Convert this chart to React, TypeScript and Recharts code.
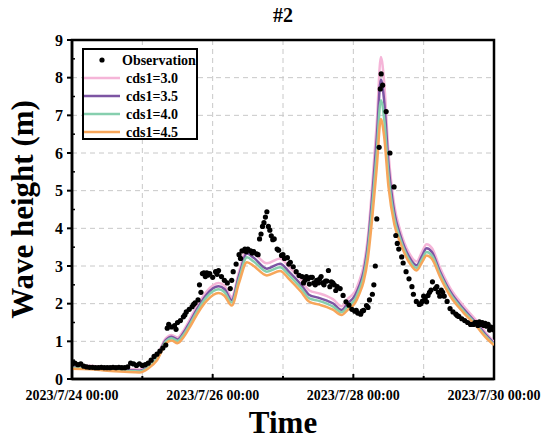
import React from "react";
import {
  ComposedChart,
  Line,
  Scatter,
  XAxis,
  YAxis,
  CartesianGrid,
  ReferenceArea,
} from "recharts";

// ---- Data (hours since 2023/7/24 00:00) ----
const xTickHours = [0, 24, 48, 72, 96, 120, 144];
const xTickLabels: Record<number, string> = {
  0: "2023/7/24 00:00",
  48: "2023/7/26 00:00",
  96: "2023/7/28 00:00",
  144: "2023/7/30 00:00",
};
const yTicks = [0, 0.5, 1, 1.5, 2, 2.5, 3, 3.5, 4, 4.5, 5, 5.5, 6, 6.5, 7, 7.5, 8, 8.5, 9];

const modelHours = [
  0, 6, 12, 18, 23, 26, 29, 32, 34, 36, 38, 40, 43, 46, 50, 52, 54.5, 57, 59.7, 62,
  66.5, 71, 74, 78, 81, 84, 87, 89, 92, 94, 96.6, 98, 99.5, 101, 102.5, 104, 105.4,
  106.5, 108, 110, 112, 115, 117.6, 119.4, 121, 122.8, 125.6, 129, 133.5, 138, 141, 144,
];
const cds30 = [
  0.36, 0.35, 0.3, 0.27, 0.25, 0.38, 0.62, 1.08, 1.17, 1.1, 1.28, 1.55, 1.98, 2.33, 2.55,
  2.48, 2.18, 2.85, 3.45, 3.35, 3.07, 3.2, 2.98, 2.65, 2.35, 2.28, 2.2, 2.12, 1.93, 2.12,
  2.33, 2.6, 3.0, 3.8, 5.2, 6.8, 8.55, 7.9, 6.0, 4.6, 3.95, 3.35, 3.12, 3.37, 3.58, 3.48,
  2.95, 2.42, 1.95, 1.55, 1.25, 0.98,
];
const cds35 = [
  0.32, 0.31, 0.27, 0.24, 0.22, 0.34, 0.58, 1.03, 1.12, 1.05, 1.22, 1.48, 1.9, 2.25, 2.46,
  2.39, 2.1, 2.75, 3.33, 3.22, 2.93, 3.06, 2.85, 2.52, 2.23, 2.16, 2.08, 2.01, 1.83, 2.0,
  2.22, 2.47, 2.85, 3.6, 4.9, 6.4, 7.95, 7.4, 5.7, 4.42, 3.82, 3.25, 3.02, 3.26, 3.47, 3.37,
  2.85, 2.33, 1.87, 1.48, 1.19, 0.95,
];
const cds40 = [
  0.3, 0.29, 0.25, 0.22, 0.2, 0.31, 0.55, 0.99, 1.08, 1.01, 1.17, 1.42, 1.84, 2.18, 2.38,
  2.31, 2.03, 2.66, 3.23, 3.12, 2.85, 2.97, 2.76, 2.43, 2.14, 2.08, 2.0, 1.93, 1.77, 1.92,
  2.12, 2.37, 2.72, 3.42, 4.62, 6.02, 7.4, 6.92, 5.4, 4.26, 3.72, 3.17, 2.95, 3.17, 3.37,
  3.28, 2.78, 2.27, 1.82, 1.44, 1.15, 0.92,
];
const cds45 = [
  0.27, 0.26, 0.22, 0.19, 0.17, 0.28, 0.5, 0.94, 1.02, 0.95, 1.1, 1.35, 1.76, 2.08, 2.28,
  2.21, 1.95, 2.55, 3.1, 3.0, 2.75, 2.87, 2.66, 2.33, 2.05, 1.98, 1.91, 1.84, 1.7, 1.83,
  2.02, 2.25, 2.58, 3.22, 4.32, 5.62, 6.9, 6.45, 5.1, 4.1, 3.62, 3.1, 2.88, 3.09, 3.28,
  3.19, 2.71, 2.21, 1.77, 1.4, 1.12, 0.9,
];

const obsHours = [
  0, 1, 2, 3, 4, 5, 6, 7, 8, 9, 10, 11, 12, 13, 14, 15, 16, 17, 18, 19, 20, 21, 22, 23, 24,
  25, 26, 27, 28, 29, 30, 31, 32, 32.5, 33, 34, 35, 36, 37, 38, 39, 40, 41, 42, 43, 43.5,
  44, 44.5, 45, 46, 47, 48, 49, 50, 51, 52, 53, 54, 54.5, 55, 56, 57, 58, 59, 60, 61, 62,
  63, 64, 64.5, 65, 65.5, 66.5, 67, 67.5, 68, 69, 70, 70.5, 71.5, 72.5, 73.5, 74.5, 75.5,
  76.5, 77.5, 78.5, 79.5, 80.5, 81.5, 82.5, 83.5, 84.5, 85.5, 86.5, 87.5, 88.5, 89.5,
  90.5, 91.5, 92.5, 93.5, 94.5, 95.5, 96.5, 97.5, 98.5, 99.5, 100.5, 101.5, 102.5, 103,
  103.5, 104, 104.8, 105.2, 105.5, 106, 107.2, 108.5, 109.9, 110.5, 111, 111.5, 112.5,
  113, 114, 115, 116, 116.5, 117.5, 118.5, 119.5, 120.5, 121.5, 122.5, 123, 124, 125,
  126, 127, 128, 129, 130, 131, 132, 133, 134, 135, 136, 137, 138, 139, 140, 141, 142,
  143, 144,
  // additional scattered readings
  35.5, 38.5, 41.5, 45.5, 46.5, 49.5, 57.5, 59.5, 61.5, 63.5, 66, 68.5, 72, 74, 79, 80,
  81, 82, 83, 84, 85, 86, 87, 88, 89, 90, 97, 99, 101, 119, 120, 121, 122, 124.5, 125.5,
  126.5, 131.5, 137.5, 138.5, 139.5, 140.5, 141.5, 142.5,
];
const obsValues = [
  0.4, 0.42, 0.38, 0.4, 0.34, 0.32, 0.31, 0.31, 0.3, 0.3, 0.31, 0.3, 0.3, 0.3, 0.31, 0.3,
  0.31, 0.3, 0.3, 0.32, 0.42, 0.4, 0.36, 0.4, 0.36, 0.38, 0.42, 0.5, 0.6, 0.66, 0.74, 0.82,
  0.9, 1.35, 1.45, 1.38, 1.42, 1.5, 1.55, 1.65, 1.78, 1.85, 1.92, 2.02, 2.1, 2.5, 2.3, 2.8,
  2.82, 2.82, 2.8, 2.7, 2.85, 2.88, 2.72, 2.62, 2.55, 2.4, 2.62, 2.85, 3.05, 3.3, 3.4,
  3.45, 3.45, 3.4, 3.38, 3.32, 3.72, 3.85, 4.05, 4.15, 4.44, 4.05, 3.95, 3.8, 3.72, 3.45,
  3.42, 3.28, 3.2, 3.22, 3.1, 2.98, 2.85, 2.75, 2.72, 2.62, 2.66, 2.7, 2.55, 2.62, 2.66,
  2.55, 2.6, 2.88, 2.58, 2.5, 2.45, 2.4, 2.22, 2.05, 1.96, 1.85, 1.8, 1.75, 1.72, 1.82,
  1.95, 2.1, 2.25, 2.5, 3.0, 4.25, 6.15, 7.7, 8.1, 7.8, 7.1, 6.0, 5.1, 3.81, 3.6, 3.45,
  3.24, 3.08, 2.85, 2.66, 2.45, 2.25, 2.06, 1.98, 2.06, 2.14, 2.22, 2.36, 2.58, 2.4, 2.3,
  2.36, 2.2, 2.06, 1.87, 1.78, 1.72, 1.66, 1.6, 1.55, 1.5, 1.45, 1.45, 1.5, 1.52, 1.5,
  1.48, 1.45, 1.38, 1.3,
  // additional scattered readings
  1.32, 1.7, 1.98, 2.72, 2.76, 2.78, 3.2, 3.38, 3.34, 3.3, 4.3, 3.7, 3.3, 3.05, 2.55,
  2.72, 2.52, 2.7, 2.5, 2.55, 2.72, 2.5, 2.6, 2.45, 2.55, 2.35, 1.82, 1.8, 1.9, 2.0, 2.2,
  2.05, 2.3, 2.45, 2.2, 2.3, 1.68, 1.5, 1.42, 1.45, 1.42, 1.4, 1.3,
];

const seriesNames = ["cds1=3.0", "cds1=3.5", "cds1=4.0", "cds1=4.5"];
const seriesKeys = ["c30", "c35", "c40", "c45"];
const seriesColors = ["#F5B5D8", "#7D55A3", "#86CFAE", "#F7A65A"];

const modelTable = modelHours.map((t, i) => ({
  t,
  c30: cds30[i],
  c35: cds35[i],
  c40: cds40[i],
  c45: cds45[i],
}));
const obsTable = obsHours.map((t, i) => ({ t, v: obsValues[i] }));

const FONT = "'Liberation Serif', 'Times New Roman', serif";

const YTick = (props: any) => {
  const { x, y, payload } = props;
  const ax = x + 8;
  const v = payload.value;
  const major = Math.abs(v - Math.round(v)) < 1e-6;
  return (
    <g>
      {major ? (
        <>
          <line x1={ax - 5} x2={ax} y1={y} y2={y} stroke="#000" strokeWidth={2} />
          <text
            x={x - 1}
            y={y}
            dy="0.35em"
            textAnchor="end"
            fontFamily={FONT}
            fontWeight="bold"
            fontSize={16}
            fill="#000"
          >
            {v}
          </text>
        </>
      ) : (
        <line x1={ax} x2={ax + 3} y1={y} y2={y} stroke="#000" strokeWidth={1.5} />
      )}
    </g>
  );
};

const XTick = (props: any) => {
  const { x, y, payload } = props;
  const ay = y - 10;
  const v = payload.value;
  const label = xTickLabels[v];
  return (
    <g>
      <line
        x1={x}
        x2={x}
        y1={ay}
        y2={ay - (label ? 5 : 3)}
        stroke="#000"
        strokeWidth={2}
      />
      {label ? (
        <text
          x={x}
          y={y}
          dy="0.78em"
          textAnchor="middle"
          fontFamily={FONT}
          fontWeight="bold"
          fontSize={14}
          fill="#000"
        >
          {label}
        </text>
      ) : null}
    </g>
  );
};

const Dot = (props: any) => {
  const { cx, cy } = props;
  if (cx == null || cy == null) return null;
  return <circle cx={cx} cy={cy} r={2.6} fill="#000" />;
};

export default function App() {
  const W = 534;
  const H = 427;
  return (
    <div style={{ position: "relative", width: W, height: H, fontFamily: FONT }}>
      <ComposedChart
        width={W}
        height={H}
        data={modelTable}
        margin={{ top: 32, right: 48, left: 24, bottom: 26 }}
      >
        <CartesianGrid
          stroke="#c8c8c8"
          strokeDasharray="5 4"
          horizontalValues={[1, 2, 3, 4, 5, 6, 7, 8]}
          verticalValues={[24, 48, 72, 96, 120]}
        />
        <XAxis
          dataKey="t"
          type="number"
          domain={[0, 144]}
          ticks={xTickHours}
          interval={0}
          allowDataOverflow
          height={30}
          tickSize={0}
          tickMargin={10}
          tickLine={false}
          axisLine={{ stroke: "#000", strokeWidth: 2.5 }}
          tick={<XTick />}
        />
        <YAxis
          type="number"
          domain={[0, 9]}
          ticks={yTicks}
          interval={0}
          allowDataOverflow
          width={40}
          tickSize={0}
          tickMargin={8}
          tickLine={false}
          axisLine={{ stroke: "#000", strokeWidth: 2.5 }}
          tick={<YTick />}
        />
        <ReferenceArea
          x1={0}
          x2={144}
          y1={0}
          y2={9}
          fill="none"
          fillOpacity={0}
          stroke="#000"
          strokeWidth={2.5}
          ifOverflow="visible"
        />
        {seriesKeys.map((k, i) => (
          <Line
            key={k}
            dataKey={k}
            name={seriesNames[i]}
            type="monotone"
            stroke={seriesColors[i]}
            strokeWidth={2.5}
            dot={false}
            activeDot={false}
            isAnimationActive={false}
          />
        ))}
        <Scatter
          data={obsTable}
          dataKey="v"
          name="Observation"
          shape={<Dot />}
          isAnimationActive={false}
        />
      </ComposedChart>

      <svg
        width={550}
        height={443}
        style={{ position: "absolute", left: -8, top: -8, pointerEvents: "none" }}
      >
        <text
          x={283}
          y={22}
          textAnchor="middle"
          fontFamily={FONT}
          fontWeight="bold"
          fontSize={20}
          fill="#000"
        >
          #2
        </text>
        <text
          x={283}
          y={433}
          textAnchor="middle"
          fontFamily={FONT}
          fontWeight="bold"
          fontSize={31}
          fill="#000"
        >
          Time
        </text>
        <text
          x={33}
          y={209.5}
          textAnchor="middle"
          transform="rotate(-90 33 209.5)"
          fontFamily={FONT}
          fontWeight="bold"
          fontSize={31}
          fill="#000"
        >
          Wave height (m)
        </text>
      </svg>

      <div
        style={{
          position: "absolute",
          left: 74,
          top: 40,
          width: 112,
          height: 88,
          border: "2px solid #000",
          background: "#fff",
        }}
      >
        <svg width={112} height={88} style={{ display: "block", overflow: "visible" }}>
          <circle cx={18} cy={10} r={2.6} fill="#000" />
          <text
            x={38}
            y={10}
            dy="0.35em"
            fontFamily={FONT}
            fontWeight="bold"
            fontSize={14}
            fill="#000"
          >
            Observation
          </text>
          {seriesNames.map((n, i) => (
            <g key={n}>
              <line
                x1={0}
                x2={36}
                y1={28 + i * 18}
                y2={28 + i * 18}
                stroke={seriesColors[i]}
                strokeWidth={2.5}
              />
              <text
                x={42}
                y={28 + i * 18}
                dy="0.35em"
                fontFamily={FONT}
                fontWeight="bold"
                fontSize={14}
                fill="#000"
              >
                {n}
              </text>
            </g>
          ))}
        </svg>
      </div>
    </div>
  );
}
